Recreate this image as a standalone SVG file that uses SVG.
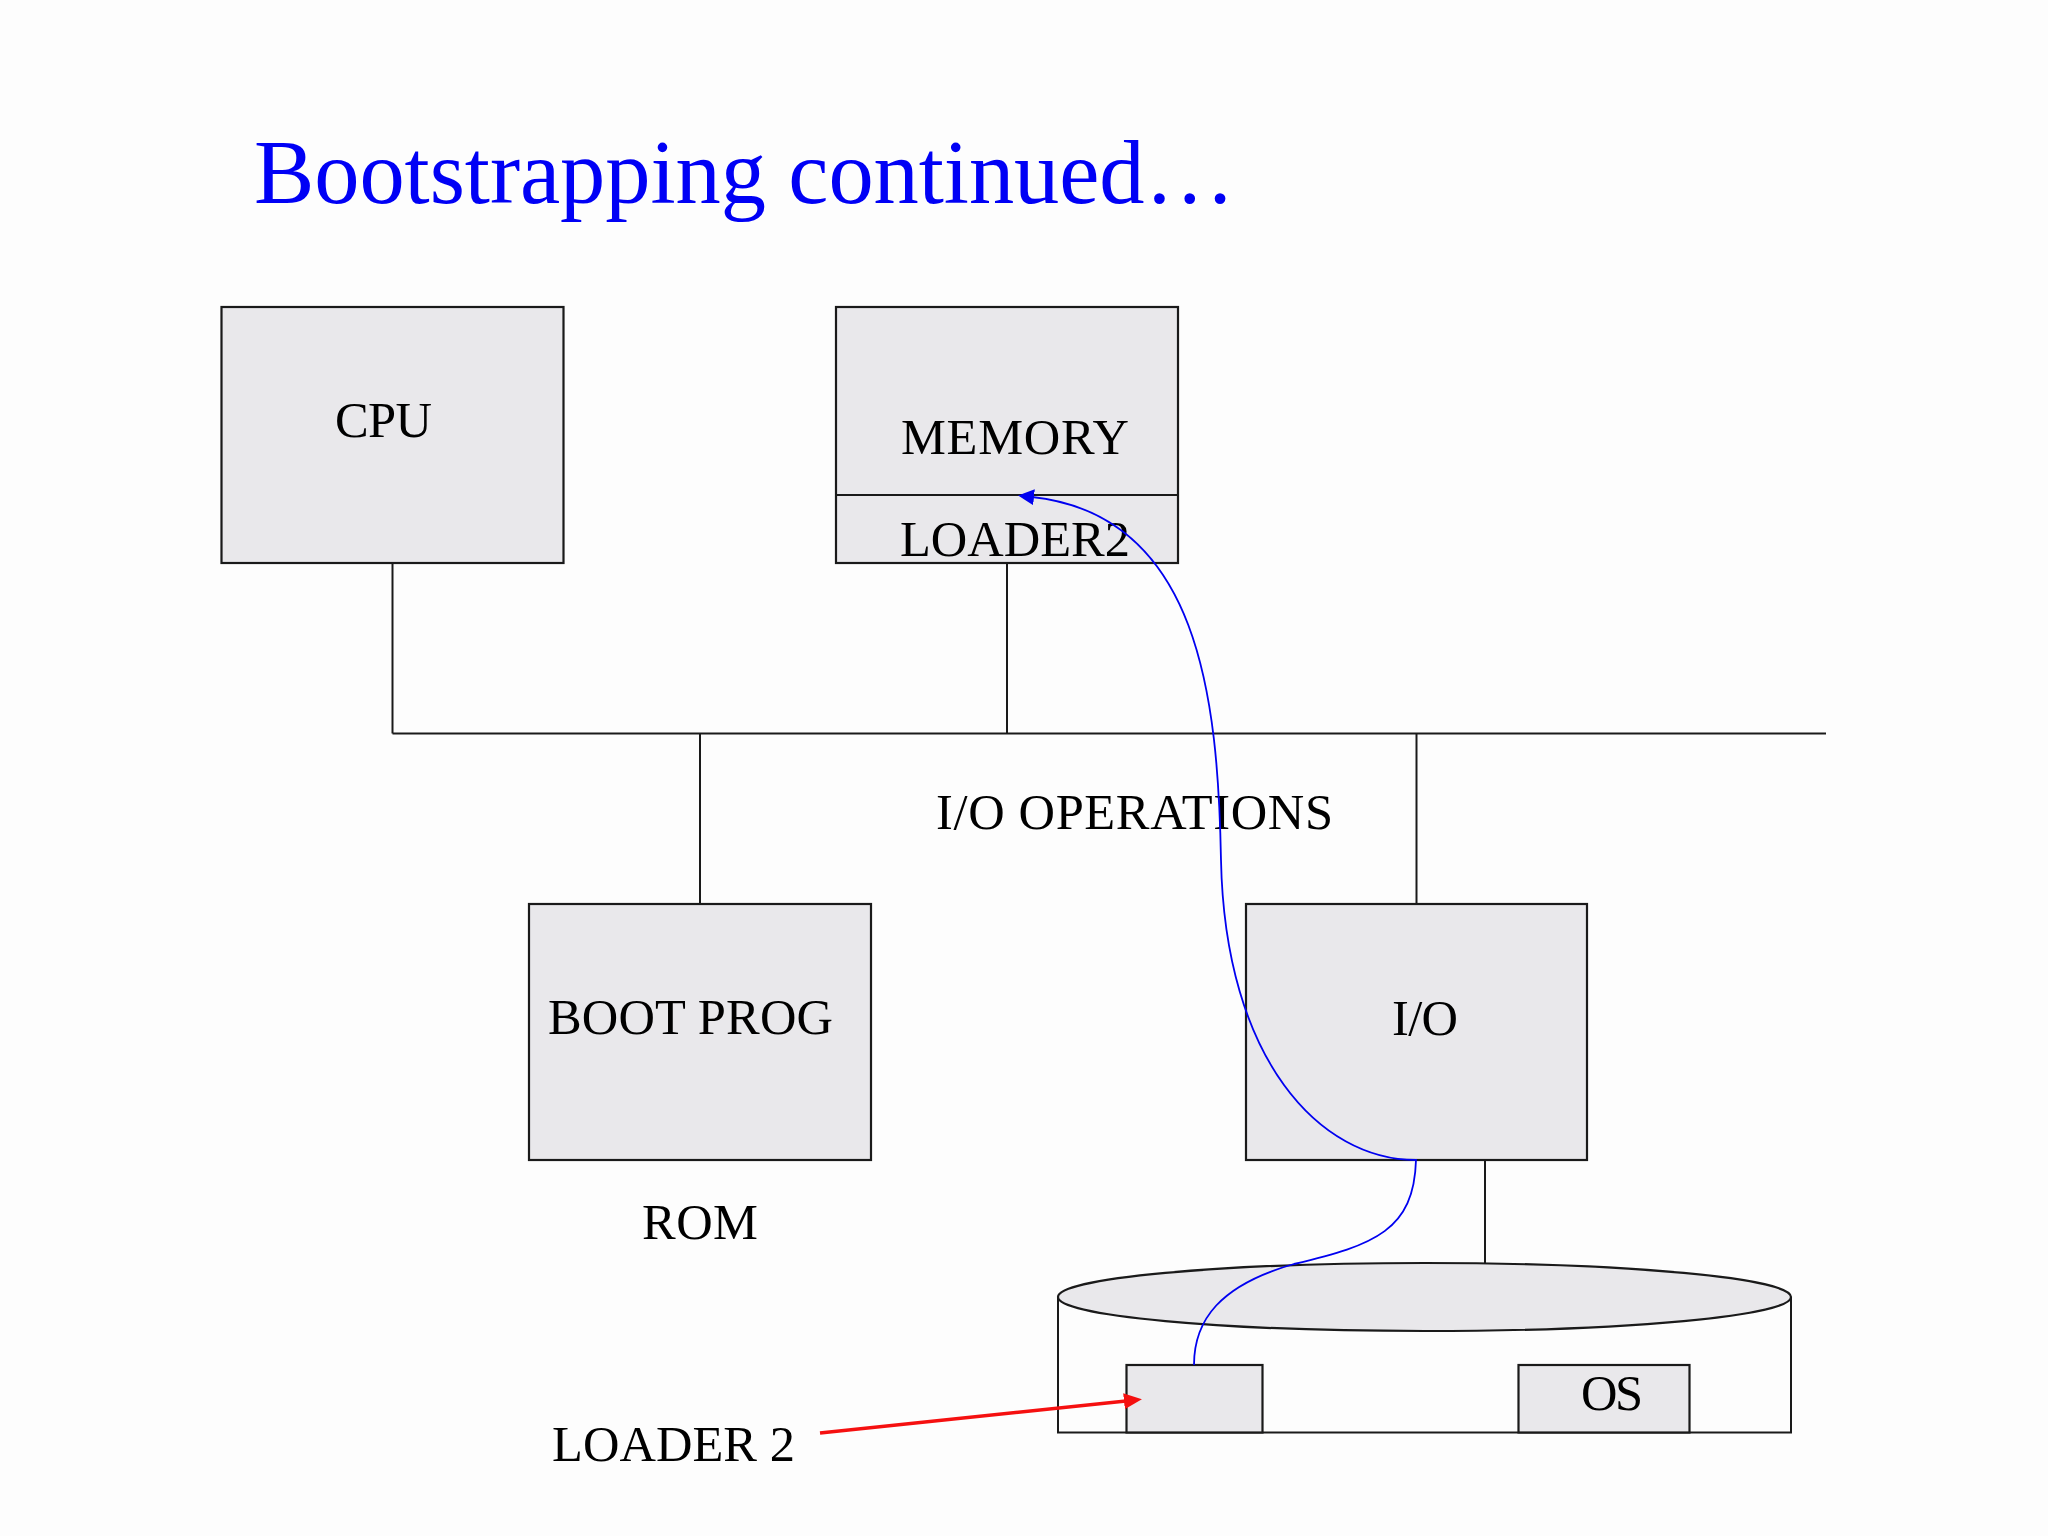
<svg xmlns="http://www.w3.org/2000/svg" width="2048" height="1536" viewBox="0 0 2048 1536">
<style>
.box{fill:#e9e8eb;stroke:#1a1a1a;stroke-width:2.2}
.line{fill:none;stroke:#1a1a1a;stroke-width:2}
.lbl{font-family:"Liberation Serif","Times New Roman",serif;font-size:50.5px;fill:#000}
.title{font-family:"Liberation Serif","Times New Roman",serif;font-size:90.5px;fill:#0000f5}
</style>
<defs>
<marker id="blueHead" viewBox="0 0 16 16" refX="2" refY="8" markerWidth="16" markerHeight="16" markerUnits="userSpaceOnUse" orient="auto">
<path d="M16 8 L0 0 L0 16 Z" fill="#0000f0"/>
</marker>
<marker id="redHead" viewBox="0 0 18 16" refX="2" refY="8" markerWidth="18" markerHeight="16" markerUnits="userSpaceOnUse" orient="auto">
<path d="M18 8 L0 0 L0 16 Z" fill="#f51010"/>
</marker>
</defs>
<rect width="2048" height="1536" fill="#fdfdfd"/>
<text class="title" x="254" y="203" textLength="981" lengthAdjust="spacing">Bootstrapping continued…</text>

<g id="connectors">
<line class="line" x1="392.5" y1="563" x2="392.5" y2="733.5"/>
<line class="line" x1="1007" y1="563" x2="1007" y2="733.5"/>
<line class="line" x1="392.5" y1="733.5" x2="1826" y2="733.5"/>
<line class="line" x1="700" y1="733.5" x2="700" y2="904"/>
<line class="line" x1="1416.5" y1="733.5" x2="1416.5" y2="904"/>
<line class="line" x1="1485" y1="1160" x2="1485" y2="1263"/>
</g>

<g id="cpu">
<rect class="box" x="221.5" y="307" width="342" height="256"/>
<text class="lbl" x="335" y="437" textLength="97" lengthAdjust="spacing">CPU</text>
</g>

<g id="memory">
<rect class="box" x="836" y="307" width="342" height="256"/>
<line class="line" x1="836" y1="495" x2="1178" y2="495"/>
<text class="lbl" x="901" y="454" textLength="228" lengthAdjust="spacing">MEMORY</text>
<text class="lbl" x="900" y="556" textLength="230" lengthAdjust="spacing">LOADER2</text>
</g>

<g id="bootprog">
<rect class="box" x="529" y="904" width="342" height="256"/>
<text class="lbl" x="548" y="1034" textLength="285" lengthAdjust="spacing">BOOT PROG</text>
<text class="lbl" x="642" y="1239" textLength="116" lengthAdjust="spacing">ROM</text>
</g>

<text id="io-ops" class="lbl" x="936" y="829" textLength="397" lengthAdjust="spacing">I/O OPERATIONS</text>

<g id="io">
<rect class="box" x="1246" y="904" width="341" height="256"/>
<text class="lbl" x="1392" y="1035" textLength="66" lengthAdjust="spacing">I/O</text>
</g>

<g id="disk">
<path class="line" d="M1058 1297 L1058 1432.5 L1791 1432.5 L1791 1297"/>
<ellipse class="box" cx="1424.5" cy="1297" rx="366.5" ry="34"/>
<g id="loader-box">
<rect class="box" x="1126.5" y="1365" width="136" height="67.5"/>
</g>
<g id="os">
<rect class="box" x="1518.5" y="1365" width="171" height="67.5"/>
<text class="lbl" x="1581" y="1410" textLength="62" lengthAdjust="spacing">OS</text>
</g>
</g>

<g id="flows">
<path d="M1194 1365 C1194 1320 1220 1285 1294 1264 C1375 1245 1414 1230 1416 1160 C1320 1160 1225 1060 1221 860 C1218 700 1200 515 1032 497" fill="none" stroke="#0000f0" stroke-width="1.8" marker-end="url(#blueHead)"/>
<line x1="820" y1="1433" x2="1126" y2="1401" stroke="#f51010" stroke-width="3.5" marker-end="url(#redHead)"/>
</g>
<text id="loader2-label" class="lbl" x="552" y="1461" textLength="243" lengthAdjust="spacing">LOADER 2</text>
</svg>
